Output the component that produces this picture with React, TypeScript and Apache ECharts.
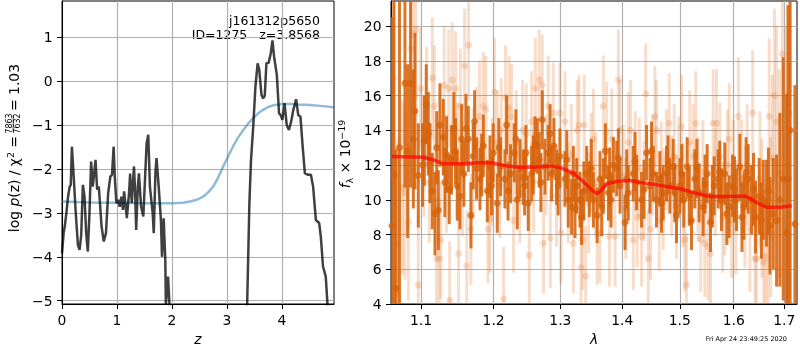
import React, { useEffect, useRef } from 'react';
import * as echarts from 'echarts';

// ---------- left panel: log p(z) ----------
const zTicks = [0, 1, 2, 3, 4];
const lnpTicks = [-5, -4, -3, -2, -1, 0, 1];

const zDark = [
  0.0, 0.03, 0.05, 0.08, 0.11, 0.14, 0.16, 0.18, 0.21, 0.25, 0.29, 0.32, 0.35, 0.38, 0.41, 0.44, 0.47,
  0.5, 0.53, 0.56, 0.58, 0.61, 0.64, 0.67, 0.72, 0.76, 0.8, 0.84, 0.88, 0.91, 0.94, 0.96, 0.99, 1.02,
  1.05, 1.08, 1.11, 1.13, 1.16, 1.18, 1.22, 1.24, 1.27, 1.31, 1.33, 1.35, 1.38, 1.4, 1.44, 1.48, 1.51,
  1.54, 1.57, 1.6, 1.65, 1.67, 1.7, 1.72, 1.76, 1.8, 1.82, 1.85, 1.88, 1.89, 1.93, 1.96, 2.0, 2.2,
  2.6, 3.0, 3.3, 3.37, 3.41, 3.44, 3.48, 3.52, 3.56, 3.59, 3.63, 3.66, 3.69, 3.72, 3.76, 3.8, 3.83,
  3.86, 3.91, 3.95, 3.98, 4.01, 4.05, 4.09, 4.13, 4.17, 4.21, 4.26, 4.3, 4.34, 4.38, 4.42, 4.48, 4.53,
  4.57, 4.62, 4.68, 4.71, 4.75, 4.8, 4.83, 4.86, 4.95,
];
const lnpDark = [
  -3.92, -3.45, -3.31, -3.0, -2.63, -2.4, -2.36, -1.49, -2.1, -3.0, -3.73, -3.84, -3.5, -2.36, -2.63, -3.46, -3.88,
  -3.0, -1.83, -2.4, -2.17, -1.79, -2.47, -2.4, -3.31, -3.65, -3.46, -2.55, -2.17, -2.13, -1.49, -2.17, -2.78, -2.7,
  -2.86, -2.63, -2.93, -2.51, -2.86, -3.12, -2.55, -2.1, -2.78, -1.94, -2.5, -3.39, -2.4, -2.1, -2.86, -3.08, -2.25,
  -1.41, -1.22, -2.4, -3.0, -3.46, -2.09, -1.75, -2.4, -3.16, -4.0, -3.12, -4.07, -5.1, -4.45, -5.2, -6.0, -8.0,
  -9.0, -9.0, -7.0, -5.06, -2.78, -1.79, -1.03, -0.12, 0.41, 0.26, -0.31, -0.39, -0.33, 0.41, 0.42, 0.64, 0.93,
  0.56, 0.14, -0.73, -0.77, -0.88, -0.5, -1.0, -1.11, -0.92, -0.65, -0.41, -0.77, -0.81, -1.49, -2.1, -2.13, -2.13,
  -2.4, -3.16, -3.23, -3.54, -4.22, -4.45, -5.06, -5.6, -6.5,
];
const zBlue = [
  0, 0.5, 1, 1.5, 2, 2.2, 2.33, 2.45, 2.57, 2.66, 2.75, 2.84, 2.93, 3.02, 3.11, 3.2, 3.3, 3.39, 3.48, 3.57,
  3.66, 3.76, 3.87, 4.0, 4.15, 4.3, 4.51, 4.7, 4.95,
];
const lnpBlue = [
  -2.74, -2.76, -2.77, -2.78, -2.78, -2.77, -2.74, -2.7, -2.63, -2.53, -2.4, -2.2, -1.95, -1.72, -1.49, -1.29,
  -1.11, -0.96, -0.84, -0.73, -0.65, -0.58, -0.54, -0.52, -0.52, -0.53, -0.54, -0.56, -0.59,
];

// ---------- right panel: spectrum ----------
const lamTicks = [1.1, 1.2, 1.3, 1.4, 1.5, 1.6, 1.7];
const fluxTicks = [4, 6, 8, 10, 12, 14, 16, 18, 20];

const darkWave = [
  1.0625, 1.065, 1.0676, 1.072, 1.0791, 1.0826, 1.0864, 1.09, 1.0921, 1.0965, 1.1044, 1.1097, 1.1119, 1.1186,
  1.1231, 1.1253, 1.1298, 1.1343, 1.1379, 1.1411, 1.1443, 1.1489, 1.1526, 1.1549, 1.1609, 1.1642, 1.1679,
  1.1711, 1.1759, 1.1806, 1.1853, 1.191, 1.1948, 1.1995, 1.2053, 1.2101, 1.2164, 1.2189, 1.2247, 1.2301,
  1.2345, 1.2385, 1.2434, 1.2474, 1.2509, 1.2559, 1.2609, 1.2645, 1.2675, 1.2721, 1.2761, 1.2812, 1.2864,
  1.29, 1.2941, 1.2993, 1.3071, 1.3123, 1.3176, 1.3203, 1.3256, 1.3309, 1.3335, 1.3416, 1.3459, 1.3524,
  1.3586, 1.3632, 1.3687, 1.372, 1.377, 1.3814, 1.3852, 1.3908, 1.3963, 1.4047, 1.4101, 1.4186, 1.4243,
  1.4328, 1.4414, 1.4472, 1.4529, 1.4587, 1.4645, 1.4704, 1.4763, 1.4822, 1.4881, 1.494, 1.5, 1.5072,
  1.5133, 1.5211, 1.5272, 1.5351, 1.5425, 1.55, 1.5562, 1.563, 1.5705, 1.5768, 1.5831, 1.5914, 1.5978,
  1.6055, 1.6119, 1.6197, 1.6281, 1.6346, 1.6425, 1.6498, 1.6577, 1.6643, 1.671, 1.6777, 1.6844, 1.6911,
  1.6979, 1.7047, 1.7075, 1.712, 1.7218,
  1.102, 1.107, 1.115, 1.121, 1.132, 1.1465, 1.158, 1.173, 1.183, 1.197, 1.2075, 1.221, 1.2325, 1.2455,
  1.2585, 1.27, 1.284, 1.2965, 1.31, 1.323, 1.337, 1.349, 1.366, 1.379, 1.3935, 1.4075, 1.4215, 1.437,
  1.45, 1.4675, 1.479, 1.491, 1.5035, 1.517, 1.531, 1.546, 1.5595, 1.5735, 1.587, 1.6015, 1.616, 1.624,
  1.6385, 1.654, 1.668,
];
const darkFlux = [
  8.5, 11.4, 4.9, 13.0, 16.7, 12.8, 16.7, 13.5, 15.1, 11.4, 13.4, 13.8, 12.1, 9.2,
  9.4, 14.3, 13.6, 12.6, 10.6, 12.3, 14.1, 10.8, 10.2, 13.5, 14.1, 13.5, 9.1,
  12.5, 11.8, 11.2, 13.1, 10.5, 11.9, 12.7, 9.8, 11.9, 11.2, 14.3, 11.5, 12.7,
  10.0, 11.8, 11.3, 12.7, 9.8, 11.5, 13.2, 13.1, 12.3, 14.6, 11.9, 12.7, 11.5,
  13.1, 11.3, 12.5, 11.2, 10.0, 9.6, 11.5, 10.8, 10.0, 9.0, 11.5, 10.6, 10.0,
  9.1, 11.2, 10.8, 12.8, 10.4, 10.0, 12.0, 11.8, 10.8, 8.7, 10.4, 11.5, 11.0,
  10.0, 12.7, 10.8, 11.5, 10.0, 11.2, 10.4, 11.5, 10.8, 11.9, 9.1, 10.8, 10.0,
  11.9, 8.8, 11.2, 10.4, 9.6, 11.5, 8.7, 10.8, 11.2, 10.0, 11.5, 9.6, 10.8,
  10.0, 11.9, 9.6, 11.2, 10.0, 9.0, 10.2, 10.0, 9.8, 8.5, 9.2, 8.8, 10.0,
  11.2, 8.1, 11.2, 14.0, 8.6,
  12.0, 15.5, 10.5, 13.0, 11.0, 12.8, 11.5, 14.5, 12.0, 10.8, 13.0, 10.5, 13.5, 10.8,
  12.0, 11.0, 13.8, 10.8, 12.3, 9.5, 10.5, 11.8, 9.6, 11.3, 12.4, 11.2, 12.2, 10.6,
  12.8, 9.8, 12.0, 10.4, 11.5, 10.2, 11.8, 10.9, 10.2, 11.6, 9.2, 10.6, 9.0, 11.6,
  10.6, 8.8, 10.5,
];
const darkErr = [
  12, 10, 8, 9, 6, 5, 6, 4, 4.5, 3, 2.6, 2.4, 2.3, 2.4,
  2.3, 2.4, 2.2, 2.2, 2.0, 2.0, 2.1, 2.0, 1.9, 2.0, 2.0, 1.9, 1.9,
  1.9, 1.8, 1.8, 1.8, 1.8, 1.8, 1.7, 1.7, 1.7, 1.7, 1.7, 1.7, 1.7,
  1.7, 1.7, 1.6, 1.6, 1.6, 1.6, 1.6, 1.6, 1.6, 1.7, 1.6, 1.6, 1.6,
  1.6, 1.6, 1.6, 1.6, 1.6, 1.6, 1.6, 1.6, 1.6, 1.6, 1.6, 1.6, 1.6,
  1.6, 1.6, 1.6, 1.6, 1.6, 1.6, 1.6, 1.6, 1.6, 1.6, 1.6, 1.6, 1.6,
  1.6, 1.6, 1.6, 1.6, 1.6, 1.6, 1.6, 1.6, 1.6, 1.6, 1.6, 1.6, 1.6,
  1.7, 1.7, 1.7, 1.7, 1.7, 1.7, 1.7, 1.7, 1.7, 1.8, 1.8, 1.8, 1.8,
  1.8, 1.9, 1.9, 2.0, 2.0, 2.1, 2.2, 2.3, 2.5, 2.8, 3.2, 3.8, 5,
  7, 8, 10, 10, 8,
  2.4, 2.3, 2.2, 2.1, 2.0, 1.9, 1.9, 1.8, 1.8, 1.7, 1.7, 1.7, 1.7, 1.7,
  1.7, 1.7, 1.7, 1.7, 1.7, 1.7, 1.7, 1.7, 1.7, 1.7, 1.7, 1.7, 1.7, 1.7,
  1.7, 1.7, 1.7, 1.7, 1.7, 1.7, 1.7, 1.7, 1.8, 1.8, 1.8, 1.9, 2.0, 2.0,
  2.1, 2.2, 2.5,
];

const lightWave = [
  1.064, 1.07, 1.076, 1.079, 1.0835, 1.0864, 1.09, 1.0934, 1.0965, 1.0995, 1.104, 1.1075, 1.111, 1.115,
  1.1177, 1.1208, 1.1243, 1.1265, 1.131, 1.134, 1.1371, 1.1385, 1.142, 1.1466, 1.149, 1.1507, 1.1532,
  1.156, 1.159, 1.162, 1.1646, 1.1678, 1.171, 1.1755, 1.18, 1.1853, 1.189, 1.192, 1.1948, 1.198, 1.2014,
  1.2053, 1.209, 1.2112, 1.2145, 1.2173, 1.22, 1.2224, 1.226, 1.2291, 1.233, 1.2385, 1.2424, 1.2479,
  1.2523, 1.2559, 1.259, 1.2617, 1.2675, 1.2721, 1.274, 1.278, 1.2812, 1.2845, 1.2889, 1.294, 1.2993,
  1.301, 1.3071, 1.3123, 1.317, 1.3203, 1.3266, 1.3294, 1.3325, 1.3351, 1.3377, 1.34, 1.3449, 1.3486,
  1.3524, 1.356, 1.3586, 1.3632, 1.3687, 1.374, 1.3786, 1.3825, 1.388, 1.3936, 1.3963, 1.402, 1.406,
  1.4101, 1.414, 1.4186, 1.422, 1.4254, 1.429, 1.4328, 1.437, 1.44, 1.4443, 1.4483, 1.452, 1.4558,
  1.4587, 1.4634, 1.467, 1.4704, 1.476, 1.4811, 1.4852, 1.49, 1.494, 1.498, 1.503, 1.506, 1.509, 1.512,
  1.518, 1.5242, 1.529, 1.533, 1.538, 1.542, 1.5456, 1.5517, 1.5562, 1.5611, 1.565, 1.5674, 1.5737,
  1.579, 1.5831, 1.588, 1.5914, 1.596, 1.6, 1.6042, 1.609, 1.615, 1.6217, 1.626, 1.6314, 1.6368, 1.6412,
  1.6445, 1.6512, 1.655, 1.6584, 1.6627, 1.6674, 1.6695, 1.6727, 1.676, 1.68, 1.6844, 1.69, 1.696,
  1.704, 1.71,
];
const lightFlux = [
  17.0, 7.5, 10.7, 10.4, 8.7, 18.7, 19.5, 19.8, 5.1, 16.4, 12.5, 15.3, 11.0, 17.0,
  15.4, 6.6, 6.6, 7.7, 16.6, 11.5, 16.4, 4.2, 16.9, 16.4, 12.3, 6.9, 15.4,
  11.2, 17.7, 6.2, 18.9, 8.3, 12.1, 13.3, 14.8, 15.4, 15.2, 8.3, 8.9, 11.6, 16.2,
  13.3, 10.8, 14.0, 4.3, 15.9, 12.4, 15.3, 14.8, 8.8, 13.3, 10.4, 14.0, 13.8,
  6.8, 14.5, 11.0, 16.4, 16.9, 16.6, 7.5, 12.0, 15.4, 7.8, 15.0, 10.2, 15.0,
  8.1, 14.5, 10.4, 12.6, 7.5, 14.0, 14.3, 6.1, 7.7, 14.3, 5.6, 9.8, 12.1,
  13.5, 11.0, 8.0, 8.1, 15.4, 13.9, 7.9, 13.5, 7.9, 16.9, 14.0, 11.4, 9.5,
  13.3, 14.0, 7.7, 12.2, 9.0, 11.8, 7.9, 10.5, 16.1, 6.6, 8.3, 12.0, 14.8,
  14.0, 8.8, 11.6, 10.0, 12.3, 14.4, 10.8, 12.5, 9.6, 11.8, 14.2, 10.3, 7.7, 5.1,
  13.3, 12.5, 14.4, 10.6, 7.7, 11.6, 7.5, 7.3, 6.9, 14.4, 11.0, 14.4, 12.5,
  9.0, 10.0, 12.0, 13.5, 8.8, 11.3, 9.0, 14.8, 11.2, 9.6, 12.0, 8.3, 15.0, 6.6,
  6.6, 11.2, 9.5, 6.4, 6.7, 8.1, 14.8, 9.0, 12.4, 16.0, 14.5, 11.5, 18.4,
  12.0, 15.0,
];
const lightErr = [
  6, 6, 5, 5, 4.5, 4.5, 4, 4, 4, 3.5, 3.5, 3.5, 3.5, 3.5,
  3.5, 3.5, 3.5, 3.4, 3.4, 3.4, 3.4, 3.4, 3.3, 3.3, 3.3, 3.3, 3.3,
  3.3, 3.3, 3.2, 3.2, 3.2, 3.2, 3.2, 3.2, 3.1, 3.1, 3.1, 3.1, 3.1, 3.1,
  3.0, 3.0, 3.0, 3.0, 3.0, 3.0, 3.0, 3.0, 3.0, 3.0, 2.9, 2.9, 2.9,
  2.9, 2.9, 2.9, 2.9, 2.9, 2.9, 2.9, 2.9, 2.9, 2.9, 2.9, 2.9, 2.9,
  2.9, 2.9, 2.9, 2.9, 2.9, 2.9, 2.9, 2.9, 2.9, 2.9, 2.9, 2.9, 2.9,
  2.9, 2.9, 2.9, 2.9, 2.9, 2.9, 2.9, 2.9, 2.9, 2.9, 2.9, 2.9, 2.9,
  2.9, 2.9, 2.9, 2.9, 2.9, 2.9, 2.9, 2.9, 2.9, 2.9, 2.9, 2.9, 2.9,
  2.9, 2.9, 2.9, 2.9, 2.9, 2.9, 2.9, 3.0, 3.0, 3.0, 3.0, 3.0, 3.0, 3.0,
  3.0, 3.0, 3.0, 3.0, 3.0, 3.0, 3.1, 3.1, 3.1, 3.1, 3.1, 3.1, 3.1,
  3.2, 3.2, 3.2, 3.2, 3.3, 3.3, 3.3, 3.4, 3.4, 3.5, 3.5, 3.6, 3.6, 3.7,
  3.8, 3.9, 4.0, 4.1, 4.2, 4.3, 4.5, 4.6, 4.8, 5, 5.5, 6, 7,
  8, 9,
];

const modelWave = [
  1.0621, 1.103, 1.1163, 1.1298, 1.1572, 1.1852, 1.1995, 1.2189, 1.2385, 1.2635, 1.2864, 1.3019, 1.3201,
  1.336, 1.3495, 1.3586, 1.3658, 1.374, 1.3905, 1.4128, 1.4299, 1.4528, 1.4763, 1.5, 1.5241, 1.5549, 1.5863,
  1.6215, 1.6312, 1.6444, 1.6642, 1.691, 1.7149,
];
const modelFlux = [
  12.49, 12.45, 12.3, 12.07, 12.07, 12.15, 12.11, 11.95, 11.86, 11.88, 11.95, 11.82, 11.53,
  11.05, 10.57, 10.34, 10.57, 10.92, 11.05, 11.11, 10.99, 10.9, 10.76, 10.63, 10.42, 10.19, 10.19,
  10.22, 10.09, 9.84, 9.57, 9.57, 9.65,
];

const FONT = 'DejaVu Sans';
const minus = (v: number) => (v < 0 ? '\u2212' + Math.abs(v) : String(v));
const L10 = (v: number) => Math.log10(v);

export default function App() {
  const ref = useRef<HTMLDivElement>(null);
  useEffect(() => {
    if (!ref.current) return;
    const chart = echarts.init(ref.current, null, { renderer: 'svg' });

    const errBars = (color: string, width: number) => (params: any, api: any) => {
      const x = api.value(0);
      const y = api.value(1);
      const e = api.value(2);
      const p1 = api.coord([x, y + e]);
      const p2 = api.coord([x, y - e]);
      const cs = params.coordSys;
      const top = Math.max(p1[1], cs.y);
      const bot = Math.min(p2[1], cs.y + cs.height);
      if (bot <= top) return null;
      return {
        type: 'line',
        shape: { x1: p1[0], y1: top, x2: p1[0], y2: bot },
        style: { stroke: color, lineWidth: width },
      };
    };

    const axisCommon = {
      axisLine: { show: true, onZero: false, lineStyle: { color: '#000', width: 1 } },
      axisTick: { show: true, length: 5, lineStyle: { color: '#000', width: 1 } },
      splitLine: { show: true, lineStyle: { color: '#b0b0b0', width: 1.2 } },
    };
    const labelCommon = { color: '#000', fontFamily: FONT, fontSize: 13.9 };

    const option: any = {
      animation: false,
      grid: [
        { left: 62, top: 1, width: 272, height: 303, show: true, borderColor: '#000', borderWidth: 1, backgroundColor: 'transparent', outerBoundsMode: 'none', containLabel: false },
        { left: 391, top: 1, width: 406, height: 303, show: true, borderColor: '#000', borderWidth: 1, backgroundColor: 'transparent', outerBoundsMode: 'none', containLabel: false },
      ],
      xAxis: [
        {
          type: 'value', gridIndex: 0, min: 0, max: 4.95,
          ...axisCommon,
          axisTick: { ...axisCommon.axisTick, customValues: zTicks },
          axisLabel: { ...labelCommon, margin: 9, customValues: zTicks, formatter: minus },
          name: 'z', nameLocation: 'middle', nameGap: 27,
          nameTextStyle: { color: '#000', fontFamily: FONT, fontSize: 13.9, fontStyle: 'italic' },
        },
        {
          type: 'value', gridIndex: 1, min: L10(1.0612), max: L10(1.7261),
          ...axisCommon,
          axisTick: { ...axisCommon.axisTick, customValues: lamTicks.map(L10) },
          axisLabel: {
            ...labelCommon, margin: 9, customValues: lamTicks.map(L10),
            formatter: (v: number) => Math.pow(10, v).toFixed(1),
          },
          name: 'λ', nameLocation: 'middle', nameGap: 28,
          nameTextStyle: { color: '#000', fontFamily: FONT, fontSize: 13.9, fontStyle: 'italic' },
        },
      ],
      yAxis: [
        {
          type: 'value', gridIndex: 0, min: -5.075, max: 1.83,
          ...axisCommon,
          axisTick: { ...axisCommon.axisTick, customValues: lnpTicks },
          axisLabel: { ...labelCommon, margin: 9.5, customValues: lnpTicks, formatter: minus },
        },
        {
          type: 'value', gridIndex: 1, min: 4, max: 21.44,
          ...axisCommon,
          axisTick: { ...axisCommon.axisTick, customValues: fluxTicks },
          axisLabel: { ...labelCommon, margin: 9.5, customValues: fluxTicks, formatter: minus },
        },
      ],
      series: [
        {
          type: 'line', xAxisIndex: 0, yAxisIndex: 0, showSymbol: false, symbol: 'none',
          data: zBlue.map((z, i) => [z, lnpBlue[i]]),
          lineStyle: { color: 'rgb(31,119,180)', opacity: 0.5, width: 2.5 },
          clip: true, z: 2,
        },
        {
          type: 'line', xAxisIndex: 0, yAxisIndex: 0, showSymbol: false, symbol: 'none',
          data: zDark.map((z, i) => [z, lnpDark[i]]),
          lineStyle: { color: '#000', opacity: 0.75, width: 2.5 },
          clip: true, z: 3,
        },
        {
          type: 'custom', xAxisIndex: 1, yAxisIndex: 1, clip: true,
          renderItem: errBars('rgba(226,120,45,0.25)', 3),
          data: lightWave.map((w, i) => [L10(w), lightFlux[i], lightErr[i]]),
          encode: { x: 0, y: 1 }, z: 2,
        },
        {
          type: 'scatter', xAxisIndex: 1, yAxisIndex: 1, symbolSize: 7,
          data: lightWave.map((w, i) => [L10(w), lightFlux[i]]),
          itemStyle: { color: 'rgba(226,120,45,0.3)' }, clip: true, z: 2,
        },
        {
          type: 'custom', xAxisIndex: 1, yAxisIndex: 1, clip: true,
          renderItem: errBars('rgba(214,98,10,0.88)', 3),
          data: darkWave.map((w, i) => [L10(w), darkFlux[i], darkErr[i]]),
          encode: { x: 0, y: 1 }, z: 3,
        },
        {
          type: 'scatter', xAxisIndex: 1, yAxisIndex: 1, symbolSize: 7,
          data: darkWave.map((w, i) => [L10(w), darkFlux[i]]),
          itemStyle: { color: 'rgba(214,98,10,0.95)' }, clip: true, z: 3,
        },
        {
          type: 'line', xAxisIndex: 1, yAxisIndex: 1, showSymbol: false, symbol: 'none',
          data: modelWave.map((w, i) => [L10(w), modelFlux[i]]),
          lineStyle: { color: 'rgb(255,0,0)', opacity: 0.7, width: 3.5 },
          clip: true, z: 4,
        },
      ],
      graphic: [
        {
          type: 'text', x: 320, y: 20,
          style: { text: 'j161312p5650', align: 'right', verticalAlign: 'middle', fill: '#000', fontFamily: FONT, fontSize: 12.5 },
        },
        {
          type: 'text', x: 320, y: 34.5,
          style: { text: 'ID=1275   z=3.8568', align: 'right', verticalAlign: 'middle', fill: '#000', fontFamily: FONT, fontSize: 12.5 },
        },
        {
          type: 'text', x: 787, y: 339,
          style: { text: 'Fri Apr 24 23:49:25 2020', align: 'right', verticalAlign: 'middle', fill: '#000', fontFamily: FONT, fontSize: 6.5 },
        },
        {
          type: 'group', x: 14, y: 154, rotation: Math.PI / 2,
          children: [
            {
              type: 'text', x: 18, y: 0,
              style: {
                text: '{n|log }{i|p}{n|(z) / }{n|χ}{sup|2}{n| =}',
                align: 'right', verticalAlign: 'middle', fill: '#000',
                rich: {
                  n: { fontFamily: FONT, fontSize: 13.9, lineHeight: 18 },
                  i: { fontFamily: FONT, fontSize: 13.9, fontStyle: 'italic', lineHeight: 18 },
                  sup: { fontFamily: FONT, fontSize: 9.5, verticalAlign: 'top', lineHeight: 12 },
                },
              },
            },
            {
              type: 'text', x: 30.5, y: -5,
              style: { text: '7863', align: 'center', verticalAlign: 'middle', fill: '#000', fontFamily: FONT, fontSize: 8 },
            },
            {
              type: 'line', shape: { x1: 22, y1: -0.8, x2: 39, y2: -0.8 },
              style: { stroke: '#000', lineWidth: 0.7 },
            },
            {
              type: 'text', x: 30.5, y: 3.6,
              style: { text: '7632', align: 'center', verticalAlign: 'middle', fill: '#000', fontFamily: FONT, fontSize: 8 },
            },
            {
              type: 'text', x: 43, y: 0,
              style: { text: '= 1.03', align: 'left', verticalAlign: 'middle', fill: '#000', fontFamily: FONT, fontSize: 13.9 },
            },
          ],
        },
        {
          type: 'text', x: 345, y: 154, rotation: Math.PI / 2,
          style: {
            text: '{i|f}{sub|λ}{n| × 10}{sup|−19}',
            align: 'center', verticalAlign: 'middle', fill: '#000',
            rich: {
              n: { fontFamily: FONT, fontSize: 13.9, lineHeight: 18 },
              i: { fontFamily: FONT, fontSize: 13.9, fontStyle: 'italic', lineHeight: 18 },
              sub: { fontFamily: FONT, fontSize: 9.5, verticalAlign: 'bottom', lineHeight: 12 },
              sup: { fontFamily: FONT, fontSize: 9.5, verticalAlign: 'top', lineHeight: 12 },
            },
          },
        },
      ],
    };

    chart.setOption(option);
    return () => chart.dispose();
  }, []);

  return <div ref={ref} style={{ position: 'fixed', left: 0, top: 0, width: 800, height: 350 }} />;
}
